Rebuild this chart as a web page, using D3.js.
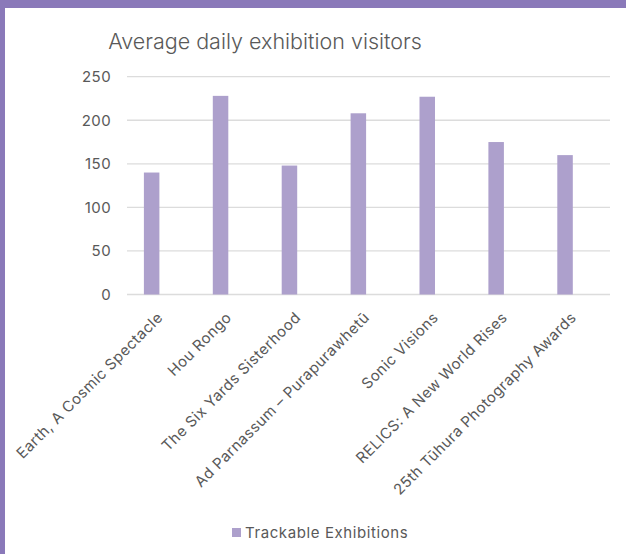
<!DOCTYPE html>
<html>
<head>
<meta charset="utf-8">
<script src="https://cdn.jsdelivr.net/npm/d3@7"></script>
<style>
  html, body { margin: 0; padding: 0; background: #fff; }
  svg { display: block; font-family: Inter, "Liberation Sans", sans-serif; }
</style>
</head>
<body>
<svg id="chart" width="626" height="554"></svg>
<script>
// Exhibitions and their average daily visitor counts
const exhibitions = [
  "Earth, A Cosmic Spectacle",
  "Hou Rongo",
  "The Six Yards Sisterhood",
  "Ad Parnassum – Purapurawhetū",
  "Sonic Visions",
  "RELICS: A New World Rises",
  "25th Tūhura Photography Awards"
];
const visitors = [140, 228, 148, 208, 227, 175, 160];
const yTicks = [0, 50, 100, 150, 200, 250];
const seriesName = "Trackable Exhibitions";
const chartTitle = "Average daily exhibition visitors";

const W = 626, H = 554;
const svg = d3.select("#chart");

const barColor = "#ada0cc";
const frameColor = "#8a79b9";
const textColor = "#595959";
const gridColor = "#dcdcdc";
const font = "Inter, 'Liberation Sans', sans-serif";

// frame accents: top band and left edge
svg.append("rect").attr("x", 0).attr("y", 0).attr("width", W).attr("height", H).attr("fill", "#fff");
svg.append("rect").attr("x", 0).attr("y", 0).attr("width", W).attr("height", 8).attr("fill", frameColor);
svg.append("rect").attr("x", 0).attr("y", 0).attr("width", 5).attr("height", H).attr("fill", frameColor);

// plot area
const gridLeft = 127, gridRight = 610;
const y = d3.scaleLinear().domain([0, 250]).range([294.5, 76.7]);
const x = d3.scaleBand().domain(exhibitions).range([117.2, 599.5]).paddingInner(0.775).paddingOuter(0.3875);

// horizontal gridlines
svg.append("g").selectAll("line").data(yTicks).join("line")
  .attr("x1", gridLeft).attr("x2", gridRight)
  .attr("y1", d => y(d)).attr("y2", d => y(d))
  .attr("stroke", gridColor).attr("stroke-width", 1.3);

// y axis labels
const yAxis = d3.axisLeft(y).tickValues(yTicks).tickSize(0).tickPadding(0);
const yg = svg.append("g").attr("transform", "translate(111,0)").call(yAxis);
yg.select(".domain").remove();
yg.selectAll("text").attr("fill", textColor).attr("font-size", 15)
  .attr("font-family", font).attr("letter-spacing", 0.4);

// bars
svg.append("g").selectAll("rect").data(visitors).join("rect")
  .attr("x", (d, i) => x(exhibitions[i]))
  .attr("width", x.bandwidth())
  .attr("y", d => y(d))
  .attr("height", d => y(0) - y(d))
  .attr("fill", barColor);

// rotated category labels
const xAxis = d3.axisBottom(x).tickSize(0).tickPadding(0);
const xg = svg.append("g").attr("transform", "translate(0,294.5)").call(xAxis);
xg.select(".domain").remove();
xg.selectAll("text")
  .attr("fill", textColor)
  .attr("font-size", 15)
  .attr("letter-spacing", 0.45)
  .attr("font-family", font)
  .attr("text-anchor", "end")
  .attr("dy", 0)
  .attr("transform", "translate(12,24) rotate(-45)");

// title
svg.append("text")
  .attr("x", 265).attr("y", 49)
  .attr("text-anchor", "middle")
  .attr("fill", textColor)
  .attr("font-size", 21.5)
  .attr("font-weight", 300)
  .text(chartTitle);

// legend
const lg = svg.append("g").attr("transform", "translate(232,528)");
lg.append("rect").attr("width", 9).attr("height", 9).attr("fill", barColor);
lg.append("text").attr("x", 13).attr("y", 10).attr("fill", textColor)
  .attr("font-size", 15).attr("letter-spacing", 0.6).text(seriesName);
</script>
</body>
</html>
